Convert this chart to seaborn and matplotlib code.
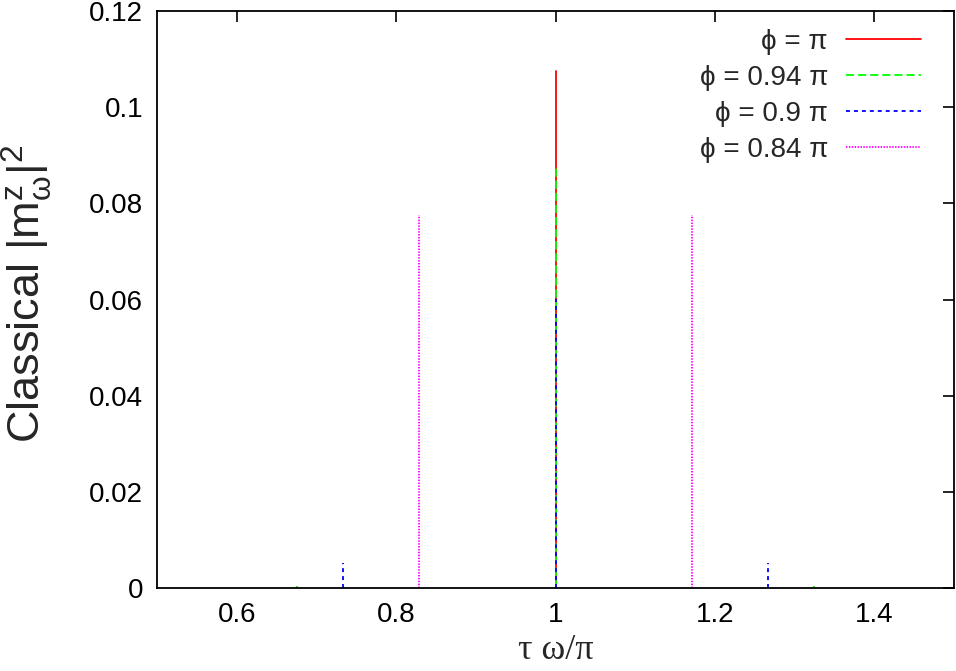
import matplotlib
matplotlib.use("Agg")
import matplotlib.pyplot as plt
import seaborn as sns
import pandas as pd

# ---- data ----
series_labels = ["\u03d5 = \u03c0", "\u03d5 = 0.94 \u03c0", "\u03d5 = 0.9 \u03c0", "\u03d5 = 0.84 \u03c0"]
series_colors = ["#ff0000", "#00ff00", "#0000ff", "#ff00ff"]
peaks_pi = [1.0]
heights_pi = [0.1075]
peaks_094 = [0.6755, 1.0, 1.3245]
heights_094 = [0.0005, 0.088, 0.0005]
peaks_09 = [0.733, 1.0, 1.267]
heights_09 = [0.0053, 0.0602, 0.0053]
peaks_084 = [0.829, 1.171]
heights_084 = [0.0775, 0.0775]
x_range = [0.5, 1.5]
x_ticks = [0.6, 0.8, 1.0, 1.2, 1.4]
x_tick_labels = ["0.6", "0.8", "1", "1.2", "1.4"]
y_ticks = [0, 0.02, 0.04, 0.06, 0.08, 0.1, 0.12]
y_tick_labels = ["0", "0.02", "0.04", "0.06", "0.08", "0.1", "0.12"]

sns.set_theme(style="white")
plt.rcParams["font.family"] = ["Liberation Sans", "DejaVu Sans"]
plt.rcParams["mathtext.default"] = "regular"


def spikes(positions, heights):
    xs, ys, units = [], [], []
    for i, (p, h) in enumerate(zip(positions, heights)):
        xs += [p, p]
        ys += [0.0, h]
        units += [i, i]
    return pd.DataFrame({"x": xs, "y": ys, "spike": units})


series = [(peaks_pi, heights_pi), (peaks_094, heights_094),
          (peaks_09, heights_09), (peaks_084, heights_084)]
dashes = ["-", (0, (4.5, 2.2)), (0, (2.2, 2.2)), (0, (0.8, 0.8))]

fig = plt.figure(figsize=(9.56, 6.71), dpi=100)
ax = fig.add_axes([157 / 956, 1 - 588 / 671, (954 - 157) / 956, (588 - 11) / 671])

handles = []
for (pos, hts), lab, col, ls in zip(series, series_labels, series_colors, dashes):
    n_before = len(ax.get_lines())
    df = spikes(pos, hts)
    sns.lineplot(data=df, x="x", y="y", units="spike", estimator=None, sort=False,
                 ax=ax, color=col, linewidth=1.3, linestyle=ls)
    handles.append(ax.get_lines()[n_before])

ax.set_xlim(*x_range)
ax.set_ylim(0, 0.12)
ax.set_xticks(x_ticks)
ax.set_xticklabels(x_tick_labels)
ax.set_yticks(y_ticks)
ax.set_yticklabels(y_tick_labels)
ax.tick_params(direction="in", length=8, width=1.2, labelsize=20, pad=10,
               top=True, right=True, color="black", labelcolor="black")
for sp in ax.spines.values():
    sp.set_color("black")
    sp.set_linewidth(1.3)
    sp.set_zorder(5)

ax.set_xlabel("\u03c4 \u03c9/\u03c0", fontsize=26, family=["Liberation Serif", "DejaVu Serif"],
              va="center")
ax.xaxis.set_label_coords(0.5, -0.109)
ax.set_ylabel(r"Classical $|m_{\omega}^{z}|^{2}$", fontsize=32.5, va="center")
ax.yaxis.set_label_coords(-0.162, 0.51)

leg = ax.legend(handles, series_labels, loc="upper right", frameon=False,
                markerfirst=False, fontsize=20,
                handlelength=2.7, handletextpad=0.65, labelspacing=0.36,
                borderaxespad=0, borderpad=0,
                bbox_to_anchor=((921 - 157) / 797, (588 - 29) / 577))

fig.savefig("out.png", dpi=100)
